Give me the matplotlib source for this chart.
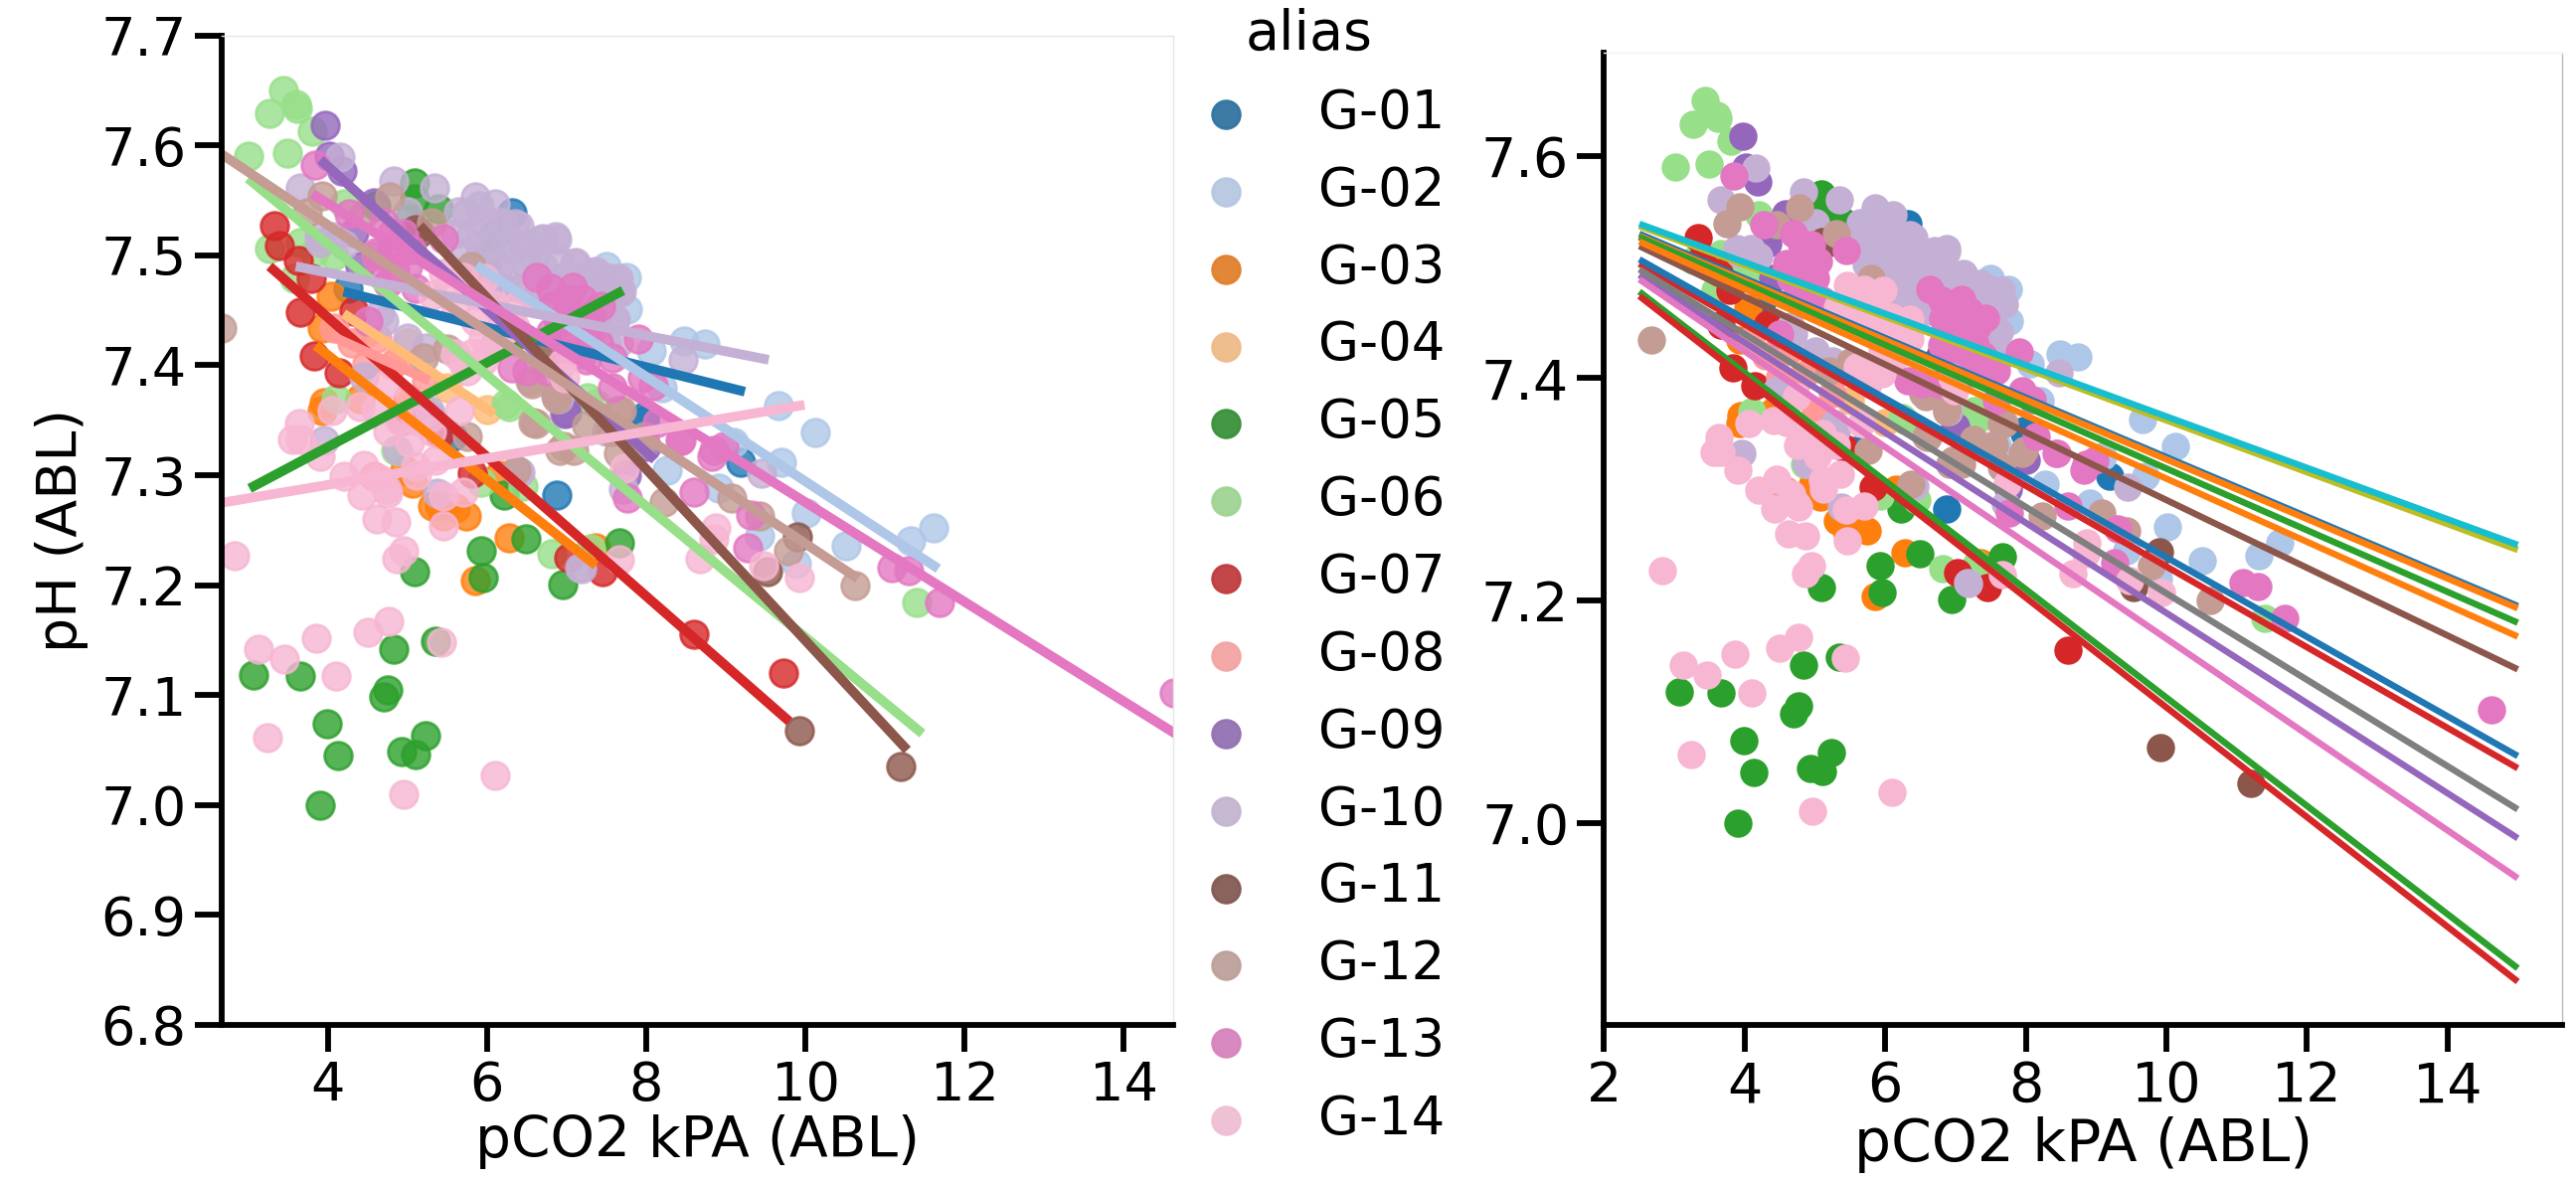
import matplotlib
matplotlib.use('Agg')
import matplotlib.pyplot as plt
import colorsys
from matplotlib.colors import to_rgb

# (pCO2, pH), one list per patient
g01 = [(6.32,7.539),(6.1,7.52),(4.25,7.47),(5.57,7.335),(6.88,7.282),(7.98,7.35),(9.19,7.312),(7.98,7.353),(7.3,7.42),(6.9,7.44)]
g02 = [(9.66,7.363),(10.12,7.339),(9.7,7.312),(8.27,7.305),(9.43,7.245),(10.01,7.266),(10.51,7.236),(11.32,7.24),(11.61,7.252),
       (8.91,7.288),(8.48,7.422),(8.74,7.419),(9.89,7.22),(7.77,7.451),(7.6,7.34),(8.06,7.413),(7.75,7.48),(7.5,7.49),(8.2,7.38),(9.1,7.33)]
g03 = [(4.04,7.463),(3.93,7.434),(3.95,7.366),(3.93,7.359),(5.07,7.293),(5.41,7.272),(5.74,7.263),(5.45,7.263),(6.28,7.243),(5.86,7.204),
       (6.15,7.3),(5.32,7.272),(4.97,7.305),(7.36,7.234),(4.4,7.37),(5.6,7.27)]
g04 = [(5.2,7.36),(4.8,7.40),(5.5,7.38),(6.0,7.36),(4.5,7.43),(5.0,7.42)]
g05 = [(3.07,7.118),(3.66,7.117),(4.83,7.142),(5.35,7.149),(4.76,7.105),(4.7,7.098),(3.99,7.074),(4.13,7.045),(5.23,7.063),(4.93,7.049),
       (5.1,7.046),(3.9,7.0),(5.09,7.212),(5.93,7.231),(5.95,7.207),(6.22,7.282),(6.49,7.242),(6.95,7.201),(7.66,7.239),(5.09,7.566),
       (5.09,7.551),(5.39,7.542),(4.6,7.545),(5.03,7.533),(6.0,7.5)]
g06 = [(3.44,7.65),(3.27,7.629),(3.61,7.637),(3.62,7.634),(3.81,7.613),(3.01,7.590),(3.49,7.593),(3.27,7.506),(3.66,7.512),(4.2,7.547),
       (3.58,7.479),(4.08,7.50),(3.83,7.503),(6.24,7.365),(7.36,7.365),(6.81,7.229),(4.85,7.323),(5.93,7.294),(6.45,7.29),(7.3,7.233),
       (11.4,7.184),(7.27,7.371),(6.28,7.362),(4.1,7.37)]
g07 = [(3.33,7.527),(3.39,7.509),(3.63,7.495),(3.79,7.479),(3.66,7.448),(3.83,7.409),(4.14,7.393),(4.33,7.449),(7.03,7.225),(7.45,7.212),
       (5.82,7.302),(8.6,7.155),(4.93,7.35),(5.4,7.338)]
g07_left_only = [(9.72,7.12)]  # shows on the left panel, not on the right one
g08 = [(4.08,7.434),(4.49,7.401),(4.62,7.425),(5.24,7.386),(4.87,7.404),(4.3,7.42),(4.58,7.299),(5.0,7.37)]
g09 = [(3.97,7.618),(4.02,7.590),(4.18,7.577),(4.33,7.521),(4.58,7.548),(6.98,7.356),(7.0,7.357),(8.0,7.326),(4.4,7.49),(7.75,7.3)]
g10 = [(4.16,7.589),(3.66,7.561),(4.83,7.568),(5.34,7.561),(5.74,7.539),(5.86,7.553),(6.11,7.547),(5.8,7.52),(5.95,7.53),(6.05,7.51),
       (6.2,7.53),(6.4,7.527),(6.3,7.505),(6.15,7.49),(6.55,7.51),(6.7,7.515),(6.88,7.514),(6.5,7.49),(6.4,7.47),(6.7,7.49),
       (6.9,7.495),(7.11,7.494),(7.0,7.475),(6.8,7.465),(6.6,7.46),(7.2,7.48),(7.36,7.485),(7.5,7.48),(7.65,7.479),(7.69,7.467),
       (7.55,7.46),(7.3,7.46),(7.48,7.452),(7.6,7.44),(7.4,7.435),(6.2,7.47),(6.0,7.47),(5.8,7.49),(4.08,7.517),(3.89,7.517),
       (3.91,7.512),(4.2,7.51),(4.65,7.447),(4.7,7.44),(5.0,7.425),(5.24,7.416),(5.28,7.359),(5.3,7.353),(6.39,7.304),(7.17,7.216),
       (4.88,7.323),(3.96,7.332),(5.38,7.284),(8.47,7.405),(9.45,7.302),(6.42,7.303),(7.19,7.215),(7.71,7.287),(5.0,7.54),(6.1,7.42),
       (6.9,7.37),(7.5,7.34),(4.45,7.39),
       (5.64,7.54),(5.73,7.502),(5.9,7.51),(6.0,7.49),(6.25,7.51),(6.35,7.529),(6.45,7.51),(6.68,7.514),(6.87,7.517),(6.6,7.5),
       (6.75,7.475),(6.95,7.48),(7.1,7.493),(7.05,7.46),(7.2,7.465),(7.34,7.484),(7.62,7.478),(7.67,7.466),(7.62,7.442),(7.45,7.47),
       (6.3,7.485),(6.5,7.47),(6.9,7.45),(7.15,7.445),(7.5,7.42),(7.65,7.42),(7.3,7.43),(5.6,7.52),(5.9,7.545),(6.1,7.53)]
g11 = [(5.16,7.521),(5.1,7.523),(6.77,7.42),(9.92,7.068),(11.2,7.035),(9.9,7.244),(9.53,7.212)]
g12 = [(3.93,7.554),(3.75,7.539),(4.78,7.553),(4.46,7.538),(5.3,7.53),(5.8,7.49),(2.67,7.434),(5.2,7.407),(5.5,7.415),(5.76,7.335),
       (6.54,7.386),(6.87,7.372),(7.65,7.359),(7.95,7.332),(7.25,7.345),(6.58,7.348),(6.96,7.326),(6.61,7.347),(6.92,7.323),(7.09,7.323),
       (7.69,7.359),(7.65,7.32),(8.23,7.276),(9.08,7.279),(9.43,7.263),(9.79,7.231),(10.62,7.2),(6.36,7.305),(7.98,7.335),(4.6,7.5),
       (6.57,7.383),(6.88,7.37),(7.55,7.34)]
g13 = [(3.85,7.582),(4.27,7.538),(5.45,7.515),(4.81,7.52),(4.6,7.503),(4.93,7.505),(4.84,7.487),(6.63,7.48),(7.08,7.471),(7.43,7.454),
       (6.82,7.454),(7.1,7.442),(7.29,7.43),(6.96,7.427),(7.9,7.424),(7.58,7.407),(8.09,7.381),(7.95,7.389),(7.58,7.38),(6.32,7.398),
       (6.75,7.395),(8.43,7.332),(8.85,7.323),(8.14,7.348),(8.44,7.332),(8.83,7.317),(8.98,7.326),(8.6,7.285),(7.77,7.279),(9.27,7.234),
       (9.31,7.264),(11.09,7.216),(11.3,7.213),(11.68,7.184),(14.63,7.102),(5.1,7.47),(4.5,7.44),(7.2,7.41),
       (4.7,7.53),(4.95,7.52),(4.65,7.49),(5.0,7.49),(4.8,7.505),(5.05,7.505),(4.75,7.475),(6.8,7.47),(7.0,7.46),(7.2,7.46),
       (7.3,7.445),(6.9,7.44),(7.1,7.42),(7.4,7.42),(6.8,7.43),(7.0,7.41),(7.25,7.405),(6.5,7.395)]
g14 = [(2.83,7.227),(3.66,7.333),(3.56,7.333),(3.9,7.317),(4.2,7.299),(4.45,7.309),(4.43,7.282),(4.62,7.26),(4.86,7.258),(4.95,7.231),
       (4.87,7.224),(4.76,7.284),(4.66,7.296),(5.45,7.281),(5.7,7.285),(5.46,7.254),(5.1,7.308),(7.67,7.223),(3.13,7.142),(3.46,7.133),
       (3.86,7.152),(4.1,7.117),(4.5,7.157),(4.77,7.167),(5.43,7.148),(3.24,7.061),(6.1,7.027),(4.96,7.01),(7.73,7.306),(8.87,7.252),
       (8.67,7.224),(9.47,7.218),(9.93,7.207),(8.85,7.242),(5.46,7.484),(5.97,7.479),(6.35,7.453),(5.88,7.464),(5.32,7.464),(6.35,7.435),
       (5.83,7.411),(5.7,7.401),(5.95,7.404),(6.94,7.401),(6.98,7.389),(5.66,7.359),(4.74,7.383),(4.41,7.362),(4.06,7.359),(3.64,7.347),
       (5.5,7.47),(5.7,7.48),(5.6,7.455),(5.85,7.44),(6.1,7.455),(6.2,7.44),(5.95,7.425),(6.15,7.42),(5.6,7.41),(5.75,7.395),
       (4.6,7.36),(4.9,7.35),(4.75,7.34),(5.1,7.35),(5.3,7.34),(4.74,7.287),(5.12,7.3),(5.36,7.314),(5.03,7.33)]

aliases = ['G-01','G-02','G-03','G-04','G-05','G-06','G-07','G-08','G-09','G-10','G-11','G-12','G-13','G-14']
groups = [g01,g02,g03,g04,g05,g06,g07,g08,g09,g10,g11,g12,g13,g14]
colors = ['#1f77b4','#aec7e8','#ff7f0e','#ffbb78','#2ca02c','#98df8a','#d62728','#ff9896','#9467bd','#c5b0d5','#8c564b','#c49c94','#e377c2','#f7b6d2']

# per patient fits on the left panel, start and end
fit_x0 = [4.2,5.87,3.85,4.2,3.02,3.0,3.27,4.04,3.91,3.6,5.16,2.67,3.81,2.67]
fit_y0 = [7.467,7.491,7.418,7.447,7.288,7.57,7.49,7.427,7.587,7.49,7.527,7.592,7.556,7.275]
fit_x1 = [9.24,11.67,7.37,6.09,7.71,11.47,9.8,5.28,8.11,9.54,11.28,10.66,14.8,9.99]
fit_y1 = [7.376,7.215,7.218,7.356,7.468,7.065,7.076,7.386,7.314,7.405,7.05,7.206,7.058,7.364]

# right panel, lines go from x=2.5 to x=15, default colour cycle
mixed_x = [2.5, 15]
mixed_y0 = [7.530,7.528,7.527,7.503,7.493,7.519,7.489,7.498,7.537,7.539,7.507,7.523,7.478,7.474]
mixed_y1 = [7.195,7.193,7.18,7.049,6.986,7.138,6.95,7.012,7.2455,7.25,7.06,7.1675,6.869,6.857]

W, H = 2591, 1190
dpi = 200
plt.rcParams['font.family'] = 'DejaVu Sans'
fig = plt.figure(figsize=(W/dpi, H/dpi), dpi=dpi)

def add_axes(x0, x1, ytop, ybot):
    return fig.add_axes([x0/W, 1-ybot/H, (x1-x0)/W, (ybot-ytop)/H])

def style(ax, top_col, right_col, tick_size):
    for s in ['left','bottom']:
        ax.spines[s].set_linewidth(2.1)
    ax.spines['top'].set_linewidth(0.5)
    ax.spines['top'].set_color(top_col)
    ax.spines['right'].set_linewidth(0.5)
    ax.spines['right'].set_color(right_col)
    ax.tick_params(width=2.1, length=9.7, labelsize=tick_size, pad=3)

def desat(c, prop=0.75):
    h, l, s = colorsys.rgb_to_hls(*to_rgb(c))
    return colorsys.hls_to_rgb(h, l, s*prop)

ax1 = add_axes(223, 1180, 35.7, 1031)
ax2 = add_axes(1613.5, 2577, 53, 1031)

for pts, c, x0, y0, x1, y1 in zip(groups, colors, fit_x0, fit_y0, fit_x1, fit_y1):
    xs = [p[0] for p in pts]
    ys = [p[1] for p in pts]
    ax1.scatter(xs, ys, s=100, color=c, alpha=0.8, linewidths=1)
    ax1.plot([x0, x1], [y0, y1], color=c, lw=3.5, solid_capstyle='butt')
    ax2.scatter(xs, ys, s=105, color=c, linewidths=0)
ax1.scatter([p[0] for p in g07_left_only], [p[1] for p in g07_left_only], s=100, color=colors[6], alpha=0.8, linewidths=1)

for y0, y1 in zip(mixed_y0, mixed_y1):
    ax2.plot(mixed_x, [y0, y1], lw=2.35, solid_capstyle='butt')

ax1.set_xlim(2.67, 14.62)
ax1.set_ylim(6.8, 7.7)
ax1.set_xticks([4,6,8,10,12,14])
ax1.set_yticks([6.8,6.9,7.0,7.1,7.2,7.3,7.4,7.5,7.6,7.7])
ax1.set_xlabel('pCO2 kPA (ABL)', fontsize=20.4, labelpad=1)
ax1.set_ylabel('pH (ABL)', fontsize=20, labelpad=4.6)
style(ax1, '#e6e6e6', '#e6e6e6', 19.5)

ax2.set_xlim(2.0, 15.63)
ax2.set_ylim(6.818, 7.693)
ax2.set_xticks([2,4,6,8,10,12,14])
ax2.set_yticks([7.0,7.2,7.4,7.6])
ax2.set_xlabel('pCO2 kPA (ABL)', fontsize=21, labelpad=1)
style(ax2, '#f2f2f2', '#bbbbbb', 20)

# legend uses the paler seaborn style swatches
handles = [plt.scatter([], [], s=100, color=desat(c), alpha=0.95, linewidths=1) for c in colors]
fig.legend(handles, aliases, title='alias', loc='upper left', bbox_to_anchor=(1180/W, 1-8/H),
           frameon=False, fontsize=19, title_fontsize=20, labelspacing=0.49,
           handletextpad=0.77, borderpad=0, borderaxespad=0, alignment='center')

fig.savefig('out.png', dpi=dpi)
